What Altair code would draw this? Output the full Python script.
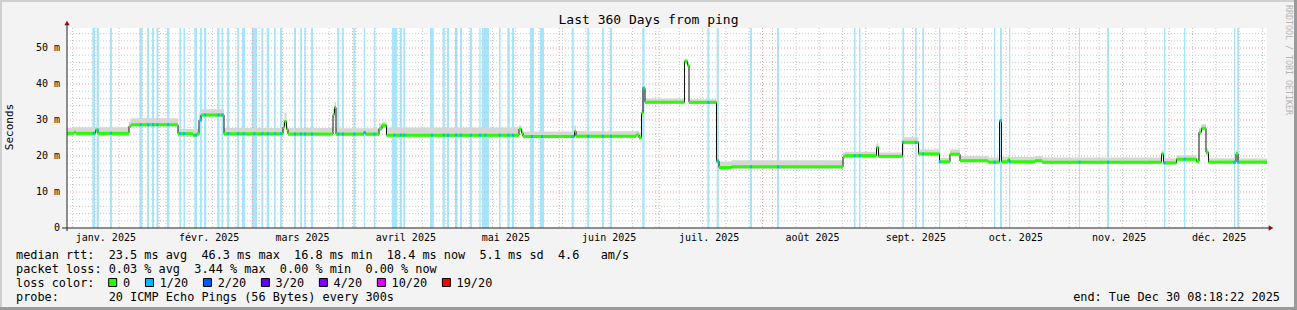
import altair as alt
import pandas as pd
from datetime import datetime, timedelta
from bisect import bisect_right

START = datetime(2025, 1, 4, 8, 18, 22)
SPAN_DAYS = 360
Y_MAX = 55.56

# ---- median step series: day offset from window start, value in ms ----
step_day = [0, 2.1, 2.7, 8.55, 9.3, 18.6, 19.2, 33.3, 37.8, 39.0, 39.6, 40.2, 47.1,
            64.8, 65.25, 65.85, 66.3, 79.8, 80.25, 80.7, 89.1, 89.55, 93.6, 94.5, 95.85,
            135.6, 136.35, 136.8, 152.25, 152.7, 170.7, 171.6, 172.35, 172.8, 173.4,
            185.25, 186.15, 186.6, 194.85, 195.6, 199.35, 232.8, 233.4, 242.85, 243.45,
            250.65, 255.45, 261.75, 264.9, 267.9, 276.3, 279.75, 280.35, 282.3, 282.75,
            290.4, 292.5, 328.35, 328.95, 332.85, 338.85, 339.6, 340.35, 341.7, 342.45,
            350.7, 351.3, 360]
median_ms = [26.3, 26.6, 26.3, 27.2, 26.3, 28.3, 28.7, 26.2, 25.8, 26.2, 30.0, 31.4, 26.2,
             28.0, 29.6, 27.4, 26.1, 31.5, 33.5, 26.1, 26.5, 26.1, 27.6, 28.5, 25.8,
             27.5, 26.4, 25.4, 26.9, 25.5, 25.9, 25.1, 31.9, 38.8, 34.9,
             46.3, 45.2, 34.9, 18.6, 16.8, 17.0, 19.8, 20.1, 22.4, 19.9,
             23.8, 20.6, 18.4, 20.5, 18.7, 18.3, 29.8, 18.4, 19.0, 18.4,
             18.7, 18.3, 20.6, 18.1, 19.1, 18.5, 26.6, 27.7, 21.0, 18.3,
             20.6, 18.3, 18.3]
smoke_lo = [25.6, 25.9, 25.6, 26.3, 25.5, 27.8, 28.2, 25.3, 25.0, 25.5, 29.3, 30.9, 25.5,
            27.0, 28.5, 26.5, 25.5, 30.5, 32.5, 25.5, 25.8, 25.5, 27.0, 27.8, 25.2,
            26.8, 25.6, 24.9, 26.0, 24.9, 25.2, 24.6, 30.5, 37.5, 34.5,
            45.5, 44.5, 34.5, 18.0, 16.3, 16.4, 19.3, 19.5, 21.5, 19.4,
            23.3, 20.1, 17.9, 20.0, 18.1, 17.8, 28.5, 17.8, 18.3, 17.8,
            18.1, 17.8, 19.8, 17.6, 18.5, 17.9, 25.8, 27.0, 20.0, 17.8,
            19.8, 17.8, 17.8]
smoke_hi = [27.8, 28.0, 28.0, 28.3, 28.0, 29.6, 30.5, 27.5, 27.3, 27.5, 31.5, 33.0, 27.8,
            29.5, 32.0, 28.5, 27.8, 33.0, 35.0, 27.7, 28.0, 27.7, 29.0, 29.5, 27.9,
            28.5, 27.5, 26.8, 28.5, 26.9, 27.0, 26.5, 33.0, 39.5, 36.0,
            47.0, 46.0, 35.8, 19.5, 18.5, 18.8, 21.0, 21.2, 23.5, 21.0,
            25.2, 21.8, 19.5, 21.8, 20.0, 19.6, 30.5, 19.8, 20.2, 19.7,
            20.0, 19.6, 21.5, 19.4, 20.2, 19.5, 27.8, 28.8, 22.0, 19.4,
            21.5, 19.3, 19.3]

# ---- days with packet loss (loss background), day offsets ----
loss_start = [7.59, 8.91, 12.9, 21.69, 24.0, 25.5, 26.85, 30.0, 33.69, 34.95, 38.19, 39.9,
              41.1, 45.06, 46.35, 48.0, 51.06, 52.5, 55.41, 58.29, 59.91, 62.1, 63.9, 68.1,
              69.96, 71.16, 73.2, 81.06, 82.44, 85.89, 89.01, 92.04, 97.44, 99.84, 100.89,
              108.9, 112.65, 114.0, 116.4, 117.9, 120.9, 123.69, 124.5, 129.6, 132.09, 133.5,
              138.9, 141.9, 151.41, 156.06, 160.5, 162.9, 172.56, 192.09, 194.91, 204.9,
              213.0, 236.1, 237.6, 250.59, 254.4, 256.59, 261.6, 278.1, 279.9, 282.6, 303.6,
              312.0, 329.1, 335.1, 350.1, 351.09]
loss_end = [8.4, 9.6, 13.5, 22.59, 24.6, 26.1, 27.45, 30.69, 34.2, 35.4, 39.0, 40.44,
            41.79, 45.75, 46.86, 48.69, 51.66, 53.46, 57.0, 58.89, 60.69, 62.61, 64.56, 68.7,
            70.5, 71.64, 73.8, 81.69, 83.04, 86.46, 89.46, 92.49, 99.09, 100.5, 101.46,
            110.04, 113.34, 114.6, 117.15, 118.5, 121.5, 124.11, 126.6, 130.08, 132.84, 134.1,
            140.1, 143.1, 152.01, 156.6, 161.04, 163.5, 173.28, 192.69, 195.54, 205.5,
            213.6, 236.55, 238.05, 251.1, 254.91, 257.1, 261.99, 278.49, 280.5, 282.99, 303.9,
            312.6, 329.49, 335.49, 350.49, 351.6]

month_names = ["janv.", "févr.", "mars", "avril", "mai", "juin",
               "juil.", "août", "sept.", "oct.", "nov.", "déc."]
y_ticks = [0, 10, 20, 30, 40, 50]

title_text = "Last 360 Days from ping"
legend_lines = [
    "median rtt:  23.5 ms avg  46.3 ms max  16.8 ms min  18.4 ms now  5.1 ms sd  4.6   am/s",
    "packet loss: 0.03 % avg  3.44 % max  0.00 % min  0.00 % now",
    "loss color:",
    "probe:       20 ICMP Echo Pings (56 Bytes) every 300s",
]
loss_labels = ["0", "1/20", "2/20", "3/20", "4/20", "10/20", "19/20"]
loss_colors = ["#26ff00", "#00b8ff", "#0059ff", "#5e00ff", "#7e00ff", "#dd00ff", "#ff0000"]
end_text = "end: Tue Dec 30 08:18:22 2025"
side_text = "RRDTOOL / TOBI OETIKER"

MONO = "DejaVu Sans Mono"
NB = "\u00a0"
LEG_FS = 11.85
CHAR_W = 7.07

# ---- derived tables ----
def day_of(dt):
    return (dt - START).total_seconds() / 86400.0

series = pd.DataFrame({"d": step_day, "med": median_ms, "lo": smoke_lo, "hi": smoke_hi})
series["d2"] = step_day[1:] + [SPAN_DAYS]
segs = series.iloc[:-1]

loss_mid, loss_med = [], []
for s, e in zip(loss_start, loss_end):
    m = (s + e) / 2
    i = bisect_right(step_day, m) - 1
    loss_mid.append(m)
    loss_med.append(median_ms[max(i, 0)])
loss = pd.DataFrame({"s": loss_start, "e": loss_end, "med": loss_med,
                     "m1": [m - 0.3 for m in loss_mid], "m2": [m + 0.3 for m in loss_mid]})

mondays = []
t = datetime(2025, 1, 6)
while day_of(t) < SPAN_DAYS:
    mondays.append(day_of(t))
    t += timedelta(days=7)
month_starts = [day_of(datetime(2025, m, 1)) for m in range(2, 13)]
mondays = [m for m in mondays if all(abs(m - ms) > 0.3 for ms in month_starts)]
vminor = pd.DataFrame({"d": mondays})
vmajor = pd.DataFrame({"d": month_starts})
hminor = pd.DataFrame({"v": [v for v in range(2, 56, 2) if v % 10 != 0]})
hmajor = pd.DataFrame({"v": [10, 20, 30, 40, 50]})
mlabels = pd.DataFrame({
    "d": [day_of(datetime(2025, m, 16)) for m in range(1, 13)],
    "t": [f"{n} 2025" for n in month_names],
})
ylabels = pd.DataFrame({"v": y_ticks,
                        "t": [("0" + NB + NB) if v == 0 else f"{v} m" for v in y_ticks]})

xs = alt.Scale(domain=[0, SPAN_DAYS], nice=False, zero=False)
ys = alt.Scale(domain=[0, Y_MAX], nice=False)
W, H = 1200, 200
one = pd.DataFrame({"k": [0]})

def X(f):
    return alt.X(f, type="quantitative", scale=xs, axis=None)

def Y(f):
    return alt.Y(f, type="quantitative", scale=ys, axis=None)

def label(text, x, y, size=LEG_FS, align="left", angle=None, color="#000"):
    kw = dict(font=MONO, fontSize=size, align=align, baseline="middle", color=color)
    if angle is not None:
        kw["angle"] = angle
    return alt.Chart(pd.DataFrame({"t": [text]})).mark_text(**kw).encode(
        x=alt.value(x), y=alt.value(y), text="t:N")

layers = []
# loss background
layers.append(alt.Chart(loss).mark_rect(color="#a8e4fa").encode(
    x=X("s"), x2="e", y=alt.value(0), y2=alt.value(H)))
# grids
layers.append(alt.Chart(vminor).mark_rule(color="#c8c8c8", strokeDash=[1, 2], strokeWidth=1).encode(
    x=X("d"), y=alt.value(0), y2=alt.value(H)))
layers.append(alt.Chart(hminor).mark_rule(color="#c8c8c8", strokeDash=[1, 2], strokeWidth=1).encode(
    y=Y("v"), x=alt.value(0), x2=alt.value(W)))
layers.append(alt.Chart(vmajor).mark_rule(color="#f2a0a0", strokeDash=[1, 2], strokeWidth=1).encode(
    x=X("d"), y=alt.value(0), y2=alt.value(H)))
layers.append(alt.Chart(hmajor).mark_rule(color="#f2a0a0", strokeDash=[1, 2], strokeWidth=1).encode(
    y=Y("v"), x=alt.value(0), x2=alt.value(W)))
# smoke
layers.append(alt.Chart(series).mark_area(interpolate="step-after", color="#d6d6d6").encode(
    x=X("d"), y=Y("lo"), y2="hi"))
# median line
layers.append(alt.Chart(series).mark_line(interpolate="step-after", color="#111111", strokeWidth=1).encode(
    x=X("d"), y=Y("med")))
layers.append(alt.Chart(segs).mark_rule(color="#26ff00", strokeWidth=3).encode(
    x=X("d"), x2="d2", y=Y("med")))
layers.append(alt.Chart(loss).mark_rule(color="#00b8ff", strokeWidth=3).encode(
    x=X("m1"), x2="m2", y=Y("med")))
# axes
layers.append(alt.Chart(one).mark_rule(color="#222222", strokeWidth=1).encode(
    x=alt.value(0), y=alt.value(-3), y2=alt.value(H + 3)))
layers.append(alt.Chart(one).mark_rule(color="#222222", strokeWidth=1).encode(
    y=alt.value(H), x=alt.value(-5), x2=alt.value(W + 2)))
layers.append(alt.Chart(one).mark_point(shape="triangle-up", filled=True, color="#8b1010",
                                        size=28, opacity=1).encode(
    x=alt.value(0), y=alt.value(-5)))
layers.append(alt.Chart(one).mark_point(shape="triangle-right", filled=True, color="#8b1010",
                                        size=28, opacity=1).encode(
    x=alt.value(W + 4), y=alt.value(H)))
# axis labels
layers.append(alt.Chart(ylabels).mark_text(font=MONO, fontSize=10, align="right",
                                           baseline="middle", color="#000").encode(
    y=Y("v"), x=alt.value(-7), text="t:N"))
layers.append(alt.Chart(mlabels).mark_text(font=MONO, fontSize=10, align="center",
                                           baseline="middle", color="#000").encode(
    x=X("d"), y=alt.value(H + 10), text="t:N"))
layers.append(label("Seconds", -57, 99, size=11, align="center", angle=270))
# title
layers.append(label(title_text, 581.5, -8, size=13, align="center"))
# legend text rows
for r, line in enumerate(legend_lines):
    layers.append(label(line.replace(" ", NB), -51, 226.5 + 14 * r))
# loss color boxes
bx = 108.7
for lab, col in zip(loss_labels, loss_colors):
    layers.append(alt.Chart(one).mark_rect(fill=col, stroke="#000", strokeWidth=1).encode(
        x=alt.value(bx - 67), x2=alt.value(bx - 67 + 8), y=alt.value(250.5), y2=alt.value(258.5)))
    layers.append(label(lab, bx - 67 + 14.2, 254.5))
    bx += (len(lab) + 4.2) * CHAR_W
layers.append(label(end_text, 1280 - 67, 268.5, align="right"))
layers.append(label(side_text, 1288 - 67, 5 - 28, size=8.3, angle=90, color="#b4b4b4"))
# frame borders
for (x1, x2, y1, y2, c) in [(-67, 1230, -28, -26, "#cfcfcf"), (-67, -65, -28, 282, "#cfcfcf"),
                            (-67, 1230, 279, 282, "#9a9a9a"), (1227, 1230, -28, 282, "#9a9a9a")]:
    layers.append(alt.Chart(one).mark_rect(color=c).encode(
        x=alt.value(x1), x2=alt.value(x2), y=alt.value(y1), y2=alt.value(y2)))

chart = alt.layer(*layers).properties(
    width=W, height=H,
    padding={"left": 67, "top": 28, "right": 30, "bottom": 82},
    autosize=alt.AutoSizeParams(type="none"),
    background="#f3f3f3",
).configure_view(stroke=None, fill="white")

chart.save("out.html", embed_options={"renderer": "svg", "actions": False})
